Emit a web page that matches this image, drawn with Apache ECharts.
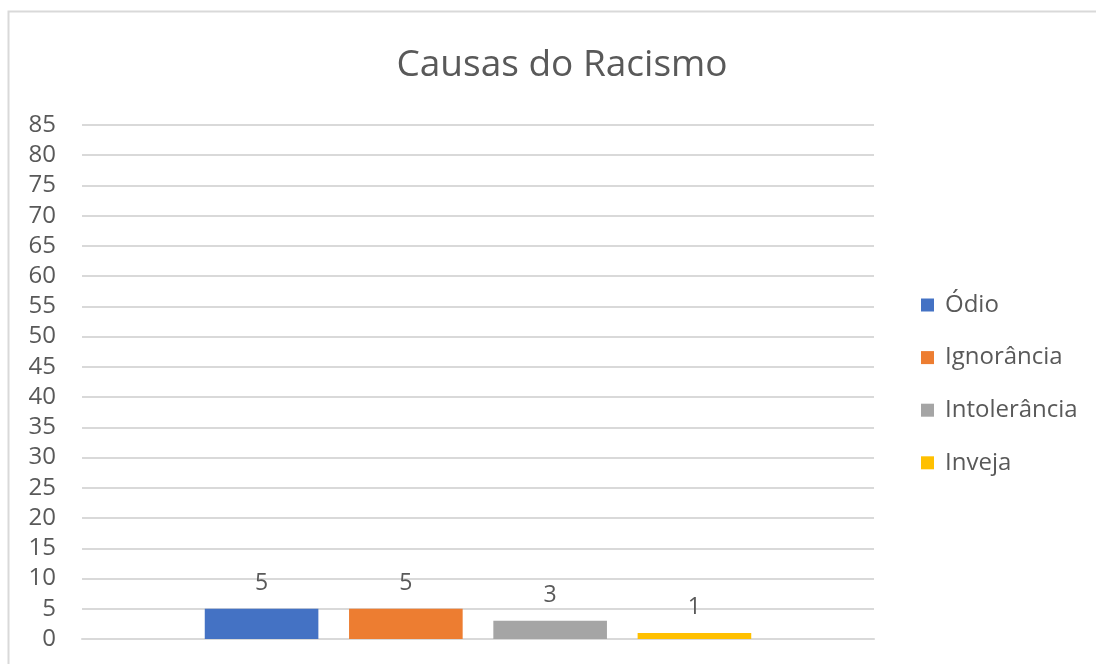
<!DOCTYPE html>
<html>
<head>
<meta charset="utf-8">
<script src="https://cdn.jsdelivr.net/npm/echarts@6/dist/echarts.min.js"></script>
<style>
  html, body { margin: 0; padding: 0; background: #fff; overflow: hidden; }
  #chart { width: 1096px; height: 664px; }
</style>
</head>
<body>
<div id="chart"></div>
<script>
var titleText = 'Causas do Racismo';
var categories = [''];
var seriesNames = ['Ódio', 'Ignorância', 'Intolerância', 'Inveja'];
var seriesValues = [5, 5, 3, 1];
var seriesColors = ['#4472c4', '#ed7d31', '#a5a5a5', '#ffc000'];
var yTicks = { min: 0, max: 85, step: 5 };

var fontFamily = '"Open Sans", "Noto Sans", sans-serif';

var series = [];
for (var i = 0; i < seriesNames.length; i++) {
    series.push({
        name: seriesNames[i],
        type: 'bar',
        data: [seriesValues[i]],
        itemStyle: { color: seriesColors[i] },
        barCategoryGap: '31%',
        barGap: '27%',
        label: {
            show: true,
            position: 'top',
            distance: 14,
            color: '#595959',
            fontSize: 23,
            fontFamily: fontFamily
        }
    });
}

var myChart = echarts.init(document.getElementById('chart'));
var option = {
    animation: false,
    backgroundColor: '#ffffff',
    title: {
        text: titleText,
        left: 557,
        textAlign: 'center',
        top: 42,
        textStyle: {
            color: '#595959',
            fontSize: 37,
            fontWeight: 'normal',
            fontFamily: fontFamily
        }
    },
    graphic: [{
        type: 'rect',
        shape: { x: 8.5, y: 11.5, width: 1200, height: 800 },
        style: { fill: 'none', stroke: '#d9d9d9', lineWidth: 2 },
        silent: true
    }],
    legend: {
        orient: 'vertical',
        left: 916,
        top: 288,
        itemWidth: 13,
        itemHeight: 13,
        itemGap: 28.6,
        icon: 'rect',
        textStyle: {
            color: '#595959',
            fontSize: 24,
            fontFamily: fontFamily,
            padding: [0, 0, 0, 6]
        },
        data: seriesNames
    },
    grid: { left: 82, right: 222, top: 125, bottom: 25 },
    xAxis: {
        type: 'category',
        data: categories,
        axisLine: { show: true, lineStyle: { color: '#d9d9d9', width: 2 } },
        axisTick: { show: false },
        axisLabel: { show: false }
    },
    yAxis: {
        type: 'value',
        min: yTicks.min,
        max: yTicks.max,
        interval: yTicks.step,
        axisLine: { show: false },
        axisTick: { show: false },
        axisLabel: {
            color: '#595959',
            fontSize: 24,
            margin: 26,
            fontFamily: fontFamily
        },
        splitLine: { lineStyle: { color: '#d9d9d9', width: 2 } }
    },
    series: series
};
myChart.setOption(option);
</script>
</body>
</html>
